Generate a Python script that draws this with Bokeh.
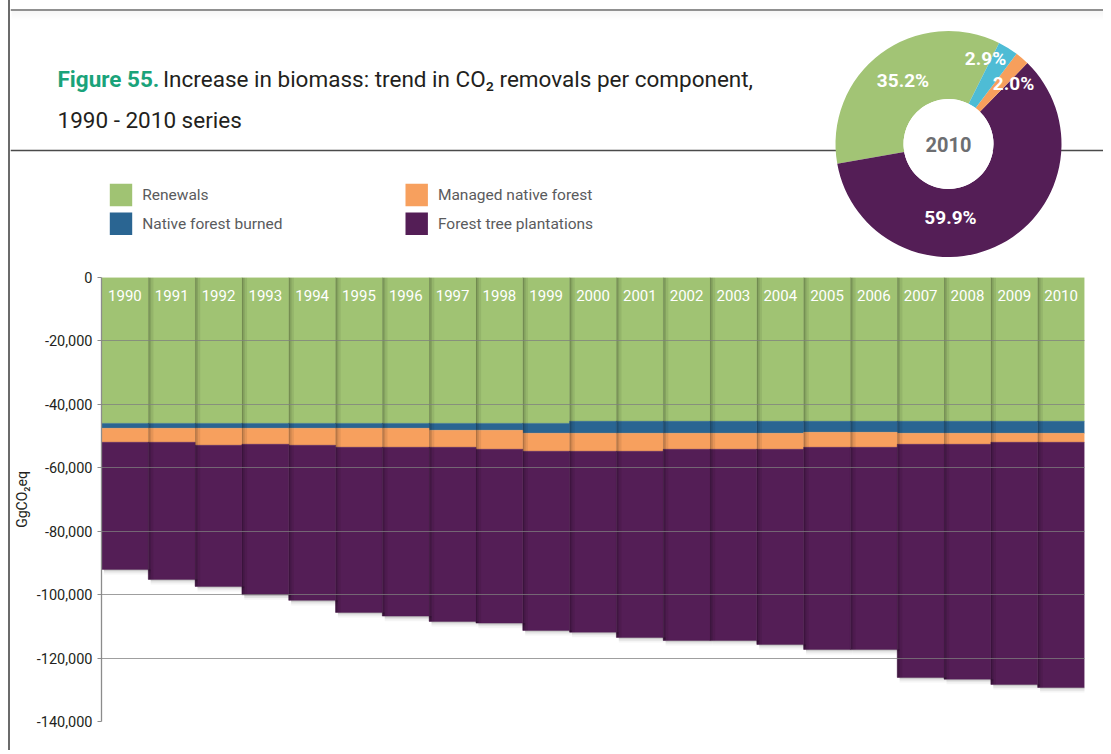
import math
from bokeh.plotting import figure
from bokeh.models import Range1d, FixedTicker, NumeralTickFormatter, ColumnDataSource, Div
from bokeh.layouts import column, row
from bokeh.core.properties import value
from bokeh.embed import file_html
from bokeh.resources import INLINE

FONT = "Roboto"

# ---------------- data ----------------
years = ["1990", "1991", "1992", "1993", "1994", "1995", "1996", "1997", "1998", "1999", "2000",
         "2001", "2002", "2003", "2004", "2005", "2006", "2007", "2008", "2009", "2010"]
renewals = [46000, 46000, 46000, 46000, 46000, 46000, 46000, 46000, 46000, 46000, 45350,
            45350, 45350, 45350, 45350, 45350, 45350, 45350, 45350, 45350, 45350]
native_burned = [1550, 1550, 1550, 1550, 1550, 1550, 1550, 2180, 2180, 3120, 3780,
                 3780, 3780, 3780, 3780, 3460, 3460, 3780, 3780, 3780, 3780]
managed_native = [4410, 4410, 5360, 5040, 5360, 5990, 5990, 5360, 5990, 5680, 5680,
                  5680, 5050, 5050, 5050, 4740, 4740, 3470, 3470, 2840, 2840]
plantations = [40080, 43230, 44490, 47430, 48890, 52060, 53220, 54900, 54800, 56480, 57010,
               58690, 60260, 60260, 61520, 63730, 63730, 73510, 74040, 76350, 77300]

series_names = ["Renewals", "Native forest burned", "Managed native forest", "Forest tree plantations"]
bar_colors = ["#a0c373", "#2a6592", "#f7a05e", "#541e56"]

pie_year = "2010"
pie_shares = [35.2, 2.9, 2.0, 59.9]          # renewals, burned, managed, plantations
pie_labels = ["35.2%", "2.9%", "2.0%", "59.9%"]
pie_colors = ["#a2c475", "#4ebcd5", "#f79f5c", "#541e56"]

y_ticks = [0, -20000, -40000, -60000, -80000, -100000, -120000, -140000]

title_bold = "Figure 55."
title_line1 = "Increase in biomass: trend in CO\u2082 removals per component,"
title_line2 = "1990 - 2010 series"
y_label = "GgCO\u2082eq"

# ---------------- layout constants ----------------
W = 1093      # width of each figure (page x 10 .. 1103)
TH = 270      # top figure height (page y 0 .. 270)
BH = 480      # bottom figure height (page y 270 .. 750)


def tx(px):
    return px - 10


def ty(py):
    return TH - py


# ---------------- top figure (title, legend, pie) ----------------
top = figure(width=W, height=TH, x_range=Range1d(0, W), y_range=Range1d(0, TH),
             output_backend="svg", toolbar_location=None, min_border=0,
             x_axis_location=None, y_axis_location=None)
top.grid.visible = False
top.outline_line_color = None
top.background_fill_color = "white"
top.border_fill_color = "white"

# frame lines
top.line([0, W], [ty(9.5), ty(9.5)], line_color="#6b6b6b", line_width=1.5)
for k in range(1, 10):
    top.line([1, W], [ty(10 + k), ty(10 + k)], line_color="black", line_alpha=0.04 * (1 - k / 10), line_width=1)
top.line([0, W], [ty(150), ty(150)], line_color="#4a4a4a", line_width=1.3)

# title
top.text(x=[tx(57)], y=[ty(78)], text=[title_bold], text_font=value(FONT), text_font_size="22.5px",
         text_font_style="bold", text_color="#1aa37a", text_baseline="alphabetic")
top.text(x=[tx(162.5)], y=[ty(78)], text=[title_line1], text_font=value(FONT), text_font_size="22.5px",
         text_color="#231f20", text_baseline="alphabetic")
top.text(x=[tx(57)], y=[ty(119)], text=[title_line2], text_font=value(FONT), text_font_size="22.5px",
         text_color="#231f20", text_baseline="alphabetic")

# legend
leg_left, leg_top, sq = [], [], 22.4
for i, name in enumerate(series_names):
    col, rw = i // 2, i % 2
    leg_left.append(tx(109.3 + col * 295.7))
    leg_top.append(ty(183.3 + rw * 28.7))
top.quad(left=leg_left, right=[l + sq for l in leg_left], top=leg_top, bottom=[t - sq for t in leg_top],
         fill_color=bar_colors, line_color=None)
top.text(x=[l + 32.4 for l in leg_left], y=[t - sq / 2 for t in leg_top], text=series_names,
         text_font=value(FONT), text_font_size="15.5px", text_color="#5a5b5d", text_baseline="middle")

# pie (donut)
cx, cy = tx(948), ty(143.5)
order = [0, 3, 2, 1]
a0 = math.radians(63.4)
starts, ends, cols = [], [], []
for idx in order:
    a1 = a0 + pie_shares[idx] / 100 * 2 * math.pi
    starts.append(a0)
    ends.append(a1)
    cols.append(pie_colors[idx])
    a0 = a1
top.annular_wedge(x=[cx] * 4, y=[cy] * 4, inner_radius=45, outer_radius=113,
                  inner_radius_units="screen", outer_radius_units="screen",
                  start_angle=starts, end_angle=ends, fill_color=cols, line_color=None)
top.circle(x=[cx], y=[cy], radius=45, radius_units="screen", fill_color="white", line_color=None)
top.text(x=[cx], y=[cy], text=[pie_year], text_font=value(FONT), text_font_size="20px",
         text_font_style="bold", text_color="#6d6e71", text_align="center", text_baseline="middle")
lab_px = [902.5, 985, 1013, 950]
lab_py = [80, 58, 83, 217]
top.text(x=[tx(v) for v in lab_px], y=[ty(v) for v in lab_py], text=pie_labels,
         text_font=value(FONT), text_font_size="19px", text_font_style="bold", text_color="white",
         text_align="center", text_baseline="middle")

# ---------------- bottom figure (stacked bars) ----------------
bot = figure(width=W, height=BH, x_range=Range1d(-0.5, 20.5), y_range=Range1d(-140000, 0),
             output_backend="svg", toolbar_location=None, x_axis_location=None,
             min_border_left=88, min_border_right=19, min_border_top=7, min_border_bottom=29)
bot.outline_line_color = None
bot.background_fill_color = "white"
bot.border_fill_color = "white"
bot.xgrid.visible = False

xs = list(range(len(years)))
src = ColumnDataSource(dict(
    x=xs, year=years,
    renew=[-v for v in renewals],
    burned=[-v for v in native_burned],
    managed=[-v for v in managed_native],
    plant=[-v for v in plantations],
))
bot.vbar_stack(["renew", "burned", "managed", "plant"], x="x", width=1.0, source=src,
               fill_color=bar_colors, line_color=bar_colors, line_width=0.5)

totals = [-(a + b + c + d) for a, b, c, d in zip(renewals, native_burned, managed_native, plantations)]

# soft shadows cast by bars
for w_, al in [(0.025, 0.14), (0.06, 0.10), (0.11, 0.07)]:
    bot.quad(left=[x - 0.5 for x in xs[1:]], right=[x - 0.5 + w_ for x in xs[1:]],
             top=[0] * (len(xs) - 1), bottom=totals[1:], fill_color="black", fill_alpha=al, line_color=None)
for h_, al in [(500, 0.10), (1000, 0.07), (1600, 0.04)]:
    bot.quad(left=[x - 0.45 for x in xs], right=[x + 0.55 for x in xs],
             top=totals, bottom=[t - h_ for t in totals], fill_color="black", fill_alpha=al, line_color=None)

bot.text(x="x", y=0, text="year", source=src, y_offset=18, text_font=value(FONT), text_font_size="15px",
         text_color="white", text_align="center", text_baseline="middle")

ax = bot.yaxis[0]
ax.ticker = FixedTicker(ticks=y_ticks)
ax.formatter = NumeralTickFormatter(format="0,0")
ax.axis_line_color = "#8c8c8c"
ax.axis_line_width = 1.3
ax.major_tick_line_color = "#8c8c8c"
ax.major_tick_out = 4
ax.major_tick_in = 0
ax.minor_tick_line_color = None
ax.major_label_text_font = FONT
ax.major_label_text_font_size = "14.5px"
ax.major_label_text_color = "#231f20"
ax.major_label_standoff = 5
ax.axis_label = y_label
ax.axis_label_text_font = FONT
ax.axis_label_text_font_size = "14px"
ax.axis_label_text_font_style = "normal"
ax.axis_label_text_color = "#231f20"
ax.axis_label_standoff = 4

bot.ygrid.ticker = FixedTicker(ticks=y_ticks)
bot.ygrid.grid_line_color = "#7f7f7f"
bot.ygrid.grid_line_alpha = 0.75
bot.ygrid.grid_line_width = 1.2
bot.ygrid.level = "overlay"

edge = Div(text="", width=10, height=750, margin=0,
           styles={"background": "linear-gradient(to right, white 8px, #6b6b6b 8px, #6b6b6b 10px, white 10px)"})
layout = row(edge, column(row(top, spacing=0), row(bot, spacing=0), spacing=0), spacing=0)

open("out.html", "w").write(file_html(layout, INLINE))
